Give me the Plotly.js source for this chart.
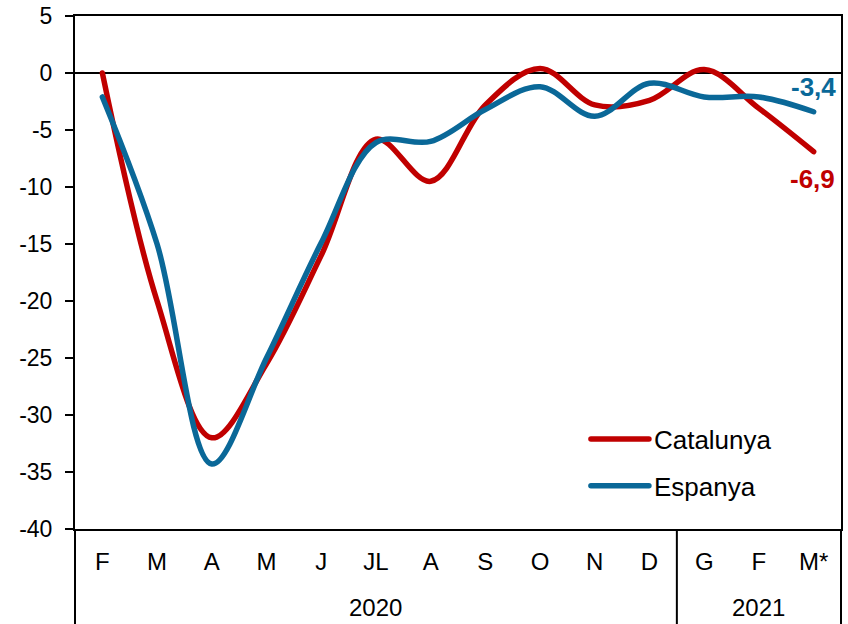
<!DOCTYPE html>
<html>
<head>
<meta charset="utf-8">
<script src="https://cdn.plot.ly/plotly-3.0.1.min.js"></script>
<style>
html,body{margin:0;padding:0;background:#fff;}
#chart{width:848px;height:624px;}
#chart .scatterlayer .js-line, #chart .legendlines path { stroke-linecap: round !important; }
</style>
</head>
<body>
<div id="chart"></div>
<script>
// Data
var years = ['2020','2020','2020','2020','2020','2020','2020','2020','2020','2020','2020','2021','2021','2021'];
var months = ['F','M','A','M','J','JL','A','S','O','N','D','G','F','M*'];
var catalunya = [0, -20, -32, -25.5, -16, -5.8, -9.5, -2.8, 0.4, -2.8, -2.4, 0.3, -3.1, -6.9];
var espanya = [-2.1, -15, -34.3, -25, -14.9, -6.1, -6, -3.2, -1.2, -3.8, -0.9, -2.1, -2.1, -3.4];
var yTicks = [5, 0, -5, -10, -15, -20, -25, -30, -35, -40];
var yTickText = ['5', '0', '-5', '-10', '-15', '-20', '-25', '-30', '-35', '-40'];

var RED = '#C00000';
var BLUE = '#0A6898';
var FONT = 'Liberation Sans, Arial, sans-serif';

function fmt(v) { return String(v).replace('.', ','); }

var n = months.length;
var idx = months.map(function (_, i) { return i; });

var traces = [
  {
    x: idx, y: catalunya, name: 'Catalunya', type: 'scatter', mode: 'lines',
    line: {color: RED, width: 5.5, shape: 'spline', smoothing: 1},
    legendgroup: 'a', hoverinfo: 'skip'
  },
  {
    x: idx, y: espanya, name: 'Espanya', type: 'scatter', mode: 'lines',
    line: {color: BLUE, width: 5.5, shape: 'spline', smoothing: 1},
    legendgroup: 'b', hoverinfo: 'skip'
  }
];

// year groups -> dividers and year labels
var groups = [];
years.forEach(function (y, i) {
  if (!groups.length || groups[groups.length - 1].name !== y) groups.push({name: y, start: i, end: i});
  else groups[groups.length - 1].end = i;
});
var shapes = [];
var yearAnns = [];
var plotH = 624 - 16 - 95;
groups.forEach(function (g, gi) {
  if (gi === 0) shapes.push({type: 'line', xref: 'paper', yref: 'paper', x0: g.start / n, x1: g.start / n, y0: 0, y1: -95 / plotH, line: {color: '#000', width: 2}});
  shapes.push({type: 'line', xref: 'paper', yref: 'paper', x0: (g.end + 1) / n, x1: (g.end + 1) / n, y0: 0, y1: -95 / plotH, line: {color: '#000', width: 2}});
  yearAnns.push({x: (g.start + g.end) / 2, xref: 'x', y: 0, yref: 'paper', yshift: -78, yanchor: 'middle',
    text: g.name, showarrow: false, font: {family: FONT, size: 24, color: '#000'}});
});

var last = n - 1;
var layout = {
  width: 848, height: 624,
  margin: {l: 75, r: 7, t: 16, b: 95},
  paper_bgcolor: '#fff', plot_bgcolor: '#fff',
  font: {family: FONT, color: '#000', size: 24},
  showlegend: true,
  legend: {
    x: 0.667, y: 0.221, xanchor: 'left', yanchor: 'top',
    font: {family: FONT, size: 26, color: '#000'},
    bgcolor: 'rgba(0,0,0,0)', itemwidth: 58,
    traceorder: 'grouped', tracegroupgap: 10
  },
  xaxis: {
    range: [-0.5, n - 0.5], tickvals: idx, ticktext: months,
    showline: true, linecolor: '#000', linewidth: 2, mirror: true,
    showgrid: false, zeroline: false,
    ticks: '', ticklabelstandoff: 10,
    tickfont: {family: FONT, size: 24, color: '#000'}
  },
  yaxis: {
    range: [-40, 5], tickvals: yTicks, ticktext: yTickText,
    showline: true, linecolor: '#000', linewidth: 2, mirror: true,
    showgrid: false, zeroline: true, zerolinecolor: '#000', zerolinewidth: 1.5,
    ticks: 'outside', ticklen: 8, tickwidth: 2, tickcolor: '#000', ticklabelstandoff: 8,
    tickfont: {family: FONT, size: 23, color: '#000'}
  },
  shapes: shapes,
  annotations: yearAnns.concat([
    {x: last, y: espanya[last], xref: 'x', yref: 'y', text: fmt(espanya[last]), showarrow: false,
     yshift: 25, xshift: 0, font: {family: FONT, size: 26, color: BLUE, weight: 'bold'}},
    {x: last, y: catalunya[last], xref: 'x', yref: 'y', text: fmt(catalunya[last]), showarrow: false,
     yshift: -27, xshift: -1, font: {family: FONT, size: 26, color: RED, weight: 'bold'}}
  ])
};

Plotly.newPlot('chart', traces, layout, {displayModeBar: false, staticPlot: true});
</script>
</body>
</html>
